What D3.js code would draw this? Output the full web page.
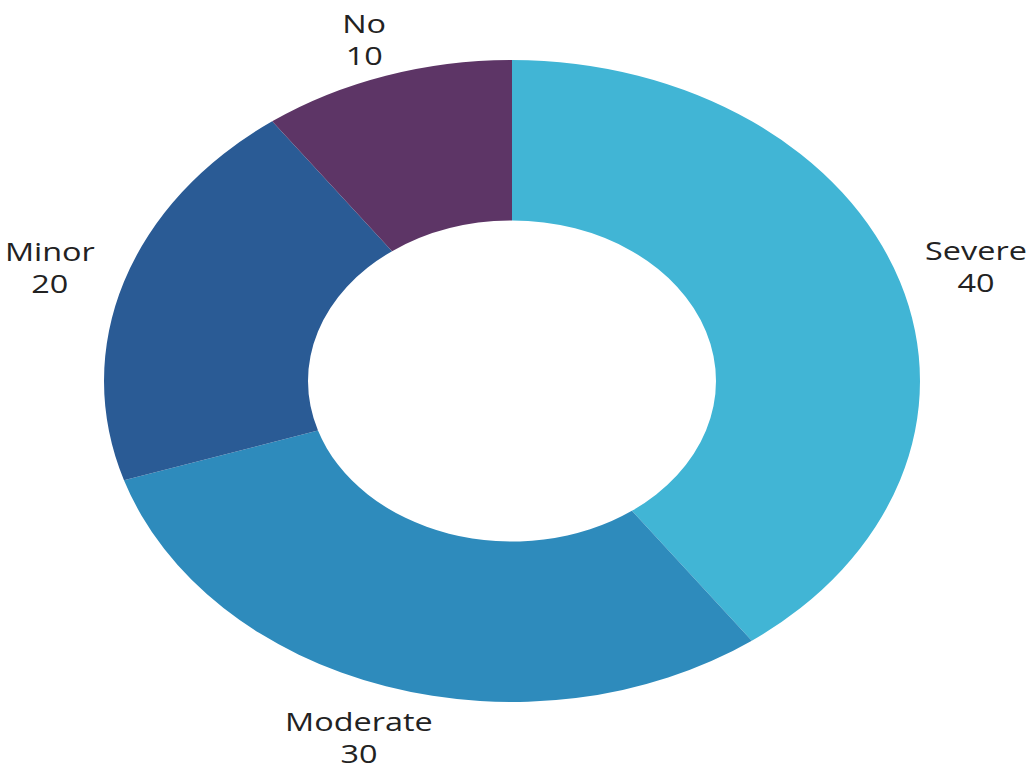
<!DOCTYPE html>
<html>
<head>
<meta charset="utf-8">
<script src="https://cdn.jsdelivr.net/npm/d3@7"></script>
<style>
  html, body { margin: 0; padding: 0; background: #ffffff; }
  svg { display: block; }
</style>
</head>
<body>
<svg id="chart" width="1033" height="769"></svg>
<script>
const categories = ["Severe", "Moderate", "Minor", "No"];
const values = [40, 30, 20, 10];
const colors = ["#41b5d5", "#2e8bbc", "#2a5b95", "#5d3566"];

const W = 1033, H = 769;
const cx = 512, cy = 381;
const R = 321;            // vertical outer radius
const sx = 408 / 321;     // horizontal stretch of the picture
const innerRatio = 0.5;

const svg = d3.select("#chart");
const g = svg.append("g").attr("transform", `translate(${cx},${cy}) scale(${sx},1)`);

const data = categories.map((c, i) => ({ name: c, value: values[i], color: colors[i] }));
const pie = d3.pie().value(d => d.value).sort(null);
const arcs = pie(data);

const arc = d3.arc().innerRadius(R * innerRatio).outerRadius(R);

g.selectAll("path.slice")
  .data(arcs)
  .enter().append("path")
  .attr("class", "slice")
  .attr("d", arc)
  .attr("fill", d => d.data.color);

const fontSize = 25.5;
const lineGap = 32;
const labels = g.selectAll("text.lbl")
  .data(arcs)
  .enter().append("text")
  .attr("class", "lbl")
  .attr("text-anchor", "middle")
  .attr("font-family", "'Open Sans', sans-serif")
  .attr("font-size", fontSize)
  .attr("fill", "#222222");

labels.append("tspan").attr("x", 0).attr("y", -7).text(d => d.data.name);
labels.append("tspan").attr("x", 0).attr("y", -7 + lineGap).text(d => d.data.value);

// place labels: farther out for wider labels
labels.attr("transform", function (d) {
  const w = this.getBBox().width * sx;
  const kx = 1.155 + w * 0.0004;
  const ky = 1.094 + w * 0.0005;
  const a = (d.startAngle + d.endAngle) / 2;
  const x = Math.sin(a) * R * kx;
  const y = -Math.cos(a) * R * ky;
  return `translate(${x},${y})`;
});
</script>
</body>
</html>
